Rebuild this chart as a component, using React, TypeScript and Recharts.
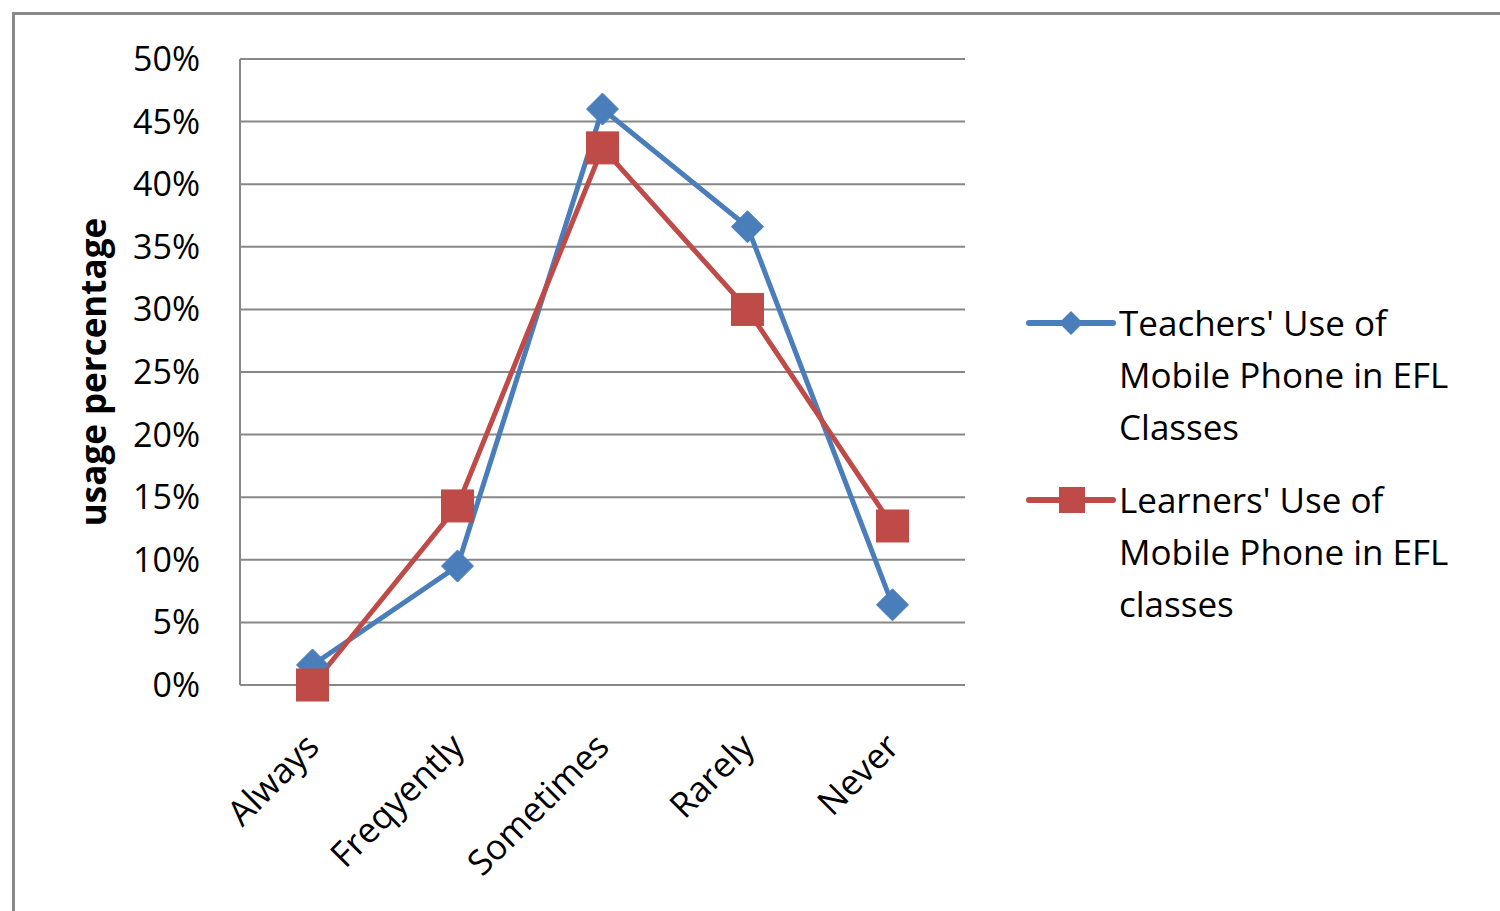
import React from "react";
import { LineChart, Line, XAxis, YAxis, CartesianGrid, Legend, Label } from "recharts";

const categories = ["Always", "Freqyently", "Sometimes", "Rarely", "Never"];
const teachersValues = [1.6, 9.5, 46.0, 36.6, 6.4];
const learnersValues = [0, 14.3, 42.9, 30.0, 12.7];
const yTicks = [0, 5, 10, 15, 20, 25, 30, 35, 40, 45, 50];
const teachersName = "Teachers' Use of Mobile Phone in EFL Classes";
const learnersName = "Learners' Use of Mobile Phone in EFL classes";
const teachersLegendLines = ["Teachers' Use of", "Mobile Phone in EFL", "Classes"];
const learnersLegendLines = ["Learners' Use of", "Mobile Phone in EFL", "classes"];

const data = categories.map((c, i) => ({
  category: c,
  teachers: teachersValues[i],
  learners: learnersValues[i],
}));

const BLUE = "#4A7EBB";
const RED = "#BE4B48";
const GRID = "#878787";
const FONT = "'Open Sans', sans-serif";

const Diamond = (props: any) => {
  const { cx, cy } = props;
  if (cx == null || cy == null) return <g key={props.key} />;
  const r = 16;
  return (
    <polygon
      key={props.key}
      points={`${cx},${cy - r} ${cx + r},${cy} ${cx},${cy + r} ${cx - r},${cy}`}
      fill={BLUE}
      stroke={BLUE}
      strokeWidth={1}
    />
  );
};

const Square = (props: any) => {
  const { cx, cy } = props;
  if (cx == null || cy == null) return <g key={props.key} />;
  const s = 16;
  return <rect key={props.key} x={cx - s} y={cy - s} width={2 * s} height={2 * s} fill={RED} stroke={RED} strokeWidth={1} />;
};

const XTick = (props: any) => {
  const { x, y, payload } = props;
  const ty = y + 53;
  return (
    <text
      x={x}
      y={ty}
      dy="0.35em"
      transform={`rotate(-45, ${x}, ${ty})`}
      textAnchor="end"
      fontFamily={FONT}
      fontSize={35}
      fill="#000"
    >
      {payload.value}
    </text>
  );
};

const LegendIcon = ({ kind }: { kind: string }) => (
  <svg width={92} height={52} style={{ display: "block", flex: "0 0 auto" }}>
    <line x1={4} y1={26} x2={88} y2={26} stroke={kind === "teachers" ? BLUE : RED} strokeWidth={6} strokeLinecap="round" />
    {kind === "teachers" ? (
      <polygon points="46,14 58,26 46,38 34,26" fill={BLUE} />
    ) : (
      <rect x={34} y={13} width={26} height={26} fill={RED} />
    )}
  </svg>
);

const renderLegend = (props: any) => {
  const items = [
    { key: "teachers", lines: teachersLegendLines },
    { key: "learners", lines: learnersLegendLines },
  ];
  return (
    <div style={{ fontFamily: FONT, fontSize: 35, color: "#000" }}>
      {items.map((it, idx) => (
        <div key={it.key} style={{ display: "flex", alignItems: "flex-start", marginBottom: idx === 0 ? 21 : 0 }}>
          <LegendIcon kind={it.key} />
          <div style={{ marginLeft: 2 }}>
            {it.lines.map((l) => (
              <div key={l} style={{ lineHeight: "52px", height: 52, whiteSpace: "nowrap" }}>
                {l}
              </div>
            ))}
          </div>
        </div>
      ))}
    </div>
  );
};

const YTitle = (props: any) => {
  const { viewBox } = props;
  const cx = viewBox.x + 44;
  const cy = viewBox.y + viewBox.height / 2;
  return (
    <text
      x={cx}
      y={cy}
      transform={`rotate(-90, ${cx}, ${cy})`}
      textAnchor="middle"
      dominantBaseline="central"
      fontFamily={FONT}
      fontWeight="bold"
      fontSize={35}
      fill="#000"
    >
      usage percentage
    </text>
  );
};

export default function App() {
  return (
    <div style={{ position: "fixed", left: 8, top: 8, width: 1492, height: 903, overflow: "hidden", background: "#fff" }}>
      <div
        style={{
          position: "absolute",
          left: 4,
          top: 4,
          width: 1600,
          height: 1000,
          border: "3px solid #898989",
          boxSizing: "border-box",
        }}
      />
      <div style={{ position: "absolute", left: 0, top: 0 }}>
        <LineChart width={1492} height={895} data={data} margin={{ top: 51, right: 535, bottom: 68, left: 40 }}>
          <CartesianGrid vertical={false} stroke={GRID} strokeWidth={2} />
          <XAxis
            dataKey="category"
            padding={{ left: 72.5, right: 72.5 }}
            axisLine={{ stroke: GRID, strokeWidth: 2 }}
            tickLine={false}
            tickSize={0}
            height={150}
            interval={0}
            tick={<XTick />}
          />
          <YAxis
            width={192}
            domain={[0, 50]}
            ticks={yTicks}
            interval={0}
            tickFormatter={(v: number) => `${v}%`}
            axisLine={{ stroke: GRID, strokeWidth: 2 }}
            tickLine={false}
            tickSize={0}
            tickMargin={40}
            tick={{ fontFamily: FONT, fontSize: 34, fill: "#000" }}
          >
            <Label content={<YTitle />} />
          </YAxis>
          <Legend
            layout="vertical"
            align="center"
            verticalAlign="middle"
            content={renderLegend}
            wrapperStyle={{ position: "absolute", left: 1017, top: 289, width: 470 }}
          />
          <Line
            name={teachersName}
            dataKey="teachers"
            stroke={BLUE}
            strokeWidth={5}
            dot={<Diamond />}
            activeDot={false}
            isAnimationActive={false}
          />
          <Line
            name={learnersName}
            dataKey="learners"
            stroke={RED}
            strokeWidth={5}
            dot={<Square />}
            activeDot={false}
            isAnimationActive={false}
          />
        </LineChart>
      </div>
    </div>
  );
}
